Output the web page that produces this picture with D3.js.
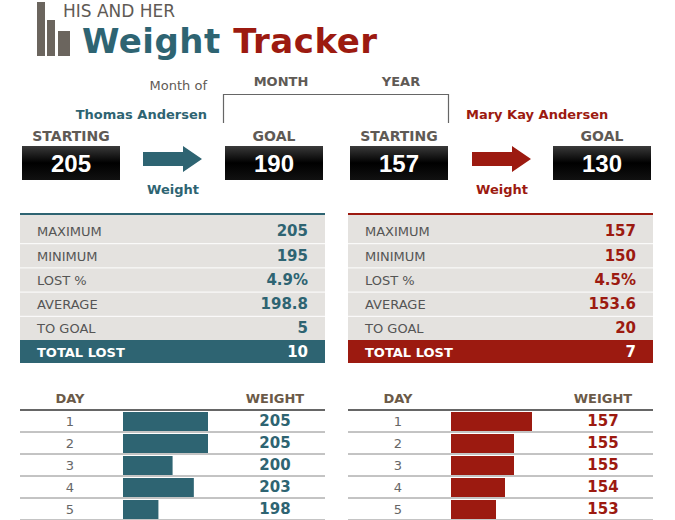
<!DOCTYPE html>
<html><head><meta charset="utf-8">
<script src="https://cdn.jsdelivr.net/npm/d3@7"></script>
<style>body{margin:0;background:#fff;font-family:Verdana,"DejaVu Sans",sans-serif}</style>
</head><body><svg id="c" width="675" height="520"></svg>
<script>
// data
const people = ['Thomas Andersen', 'Mary Kay Andersen'];
const starting = [205, 157];
const goal = [190, 130];
const statLabels = ['MAXIMUM', 'MINIMUM', 'LOST %', 'AVERAGE', 'TO GOAL'];
const hisStats = ['205', '195', '4.9%', '198.8', '5'];
const herStats = ['157', '150', '4.5%', '153.6', '20'];
const totalLost = [10, 7];
const days = [1, 2, 3, 4, 5, 6];
const hisWeights = [205, 205, 200, 203, 198, 198];
const herWeights = [157, 155, 155, 154, 153, null];

const teal = '#2e6472', red = '#9c1a10', gray = '#5f5a55';
const svg = d3.select('#c');

// logo
const logo = [[37, 2], [47, 20], [58, 31]];
const lw = [8, 8, 12];
logo.forEach(([x, y], i) => svg.append('rect').attr('x', x).attr('y', y).attr('width', lw[i]).attr('height', 56 - y).attr('fill', '#6b655e'));
svg.append('text').attr('x', 63).attr('y', 17).attr('fill', gray).style('font-size', '17px').text('HIS AND HER');
const title = svg.append('text').attr('x', 82).attr('y', 53).style('font-size', '34px').style('font-weight', 'bold').style('letter-spacing', '0.5px');
title.append('tspan').attr('fill', teal).text('Weight ');
title.append('tspan').attr('fill', red).text('Tracker');

// month header
const txt = (x, y, t, o) => svg.append('text').attr('x', x).attr('y', y).attr('text-anchor', o.anchor || 'middle')
  .attr('fill', o.fill || gray).style('font-size', (o.size || 13) + 'px').style('font-weight', o.bold ? 'bold' : 'normal').text(t);
txt(207, 90, 'Month of', { anchor: 'end' });
txt(281, 86, 'MONTH', { bold: true });
txt(401, 86, 'YEAR', { bold: true });
svg.append('path').attr('d', 'M223.5,123V94.5H448.5V123').attr('fill', 'none').attr('stroke', '#666').attr('stroke-width', 1.2);
txt(207, 119, people[0], { anchor: 'end', fill: teal, bold: true });
txt(466, 119, people[1], { anchor: 'start', fill: red, bold: true });

// boxes
const grad = svg.append('defs').append('linearGradient').attr('id', 'bx').attr('x1', 0).attr('y1', 0).attr('x2', 0).attr('y2', 1);
grad.append('stop').attr('offset', 0).attr('stop-color', '#3a3a3a');
grad.append('stop').attr('offset', 0.5).attr('stop-color', '#000');
grad.append('stop').attr('offset', 1).attr('stop-color', '#111');
const boxes = [[22, 'STARTING', starting[0]], [225, 'GOAL', goal[0]], [350, 'STARTING', starting[1]], [553, 'GOAL', goal[1]]];
boxes.forEach(([x, l, v]) => {
  txt(x + 49, 141, l, { bold: true, size: 14 });
  svg.append('rect').attr('x', x).attr('y', 146).attr('width', 98).attr('height', 34).attr('fill', 'url(#bx)');
  svg.append('text').attr('x', x + 49).attr('y', 172).attr('text-anchor', 'middle').attr('fill', '#fff')
    .style('font-size', '24px').style('font-weight', 'bold').style('font-family', 'Arial, Liberation Sans').text(v);
});
[[143, teal], [472, red]].forEach(([x, c]) => {
  svg.append('path').attr('d', `M${x},152H${x + 40}V146L${x + 59},159L${x + 40},172V166H${x}Z`).attr('fill', c);
  txt(x + 30, 194, 'Weight', { fill: c, bold: true });
});

// stats tables
function stats(x0, vals, total, c) {
  const w = 305;
  const y = d3.scaleBand().domain(d3.range(6)).range([220, 364]).paddingInner(0.05);
  svg.append('rect').attr('x', x0).attr('y', 213).attr('width', w).attr('height', 127).attr('fill', '#e4e2df');
  svg.append('rect').attr('x', x0).attr('y', 213).attr('width', w).attr('height', 2).attr('fill', c);
  statLabels.forEach((l, i) => {
    const yy = y(i) + y.bandwidth() / 2 + 5;
    if (i > 0) svg.append('line').attr('x1', x0).attr('x2', x0 + w).attr('y1', y(i) - 0.5).attr('y2', y(i) - 0.5).attr('stroke', '#fff');
    txt(x0 + 17, yy, l, { anchor: 'start', fill: '#555' });
    txt(x0 + 288, yy, vals[i], { anchor: 'end', fill: c, bold: true, size: 15 });
  });
  svg.append('rect').attr('x', x0).attr('y', 340).attr('width', w).attr('height', 23).attr('fill', c);
  txt(x0 + 17, 357, 'TOTAL LOST', { anchor: 'start', fill: '#fff', bold: true });
  txt(x0 + 288, 357, total, { anchor: 'end', fill: '#fff', bold: true, size: 15 });
}
stats(20, hisStats, totalLost[0], teal);
stats(348, herStats, totalLost[1], red);

// daily tables (row 6 runs off the bottom edge: only its bar top shows)
function daily(x0, weights, domain, range, c) {
  const y = d3.scaleBand().domain(days).range([410, 542]);
  const x = d3.scaleLinear().domain(domain).range([0, range]);
  txt(x0 + 50, 403, 'DAY', { bold: true, fill: '#6b5a48' });
  txt(x0 + 255, 403, 'WEIGHT', { bold: true, fill: '#6b5a48' });
  svg.append('rect').attr('x', x0).attr('y', 409).attr('width', 305).attr('height', 2).attr('fill', '#666');
  days.forEach((d, i) => {
    if (weights[i] == null) return;
    svg.append('rect').attr('x', x0 + 103).attr('y', y(d) + 2).attr('width', x(weights[i])).attr('height', y.bandwidth() - 3).attr('fill', c);
    if (y(d) + 16 > 520) return;
    svg.append('line').attr('x1', x0).attr('x2', x0 + 305).attr('y1', y(d) + y.bandwidth()).attr('y2', y(d) + y.bandwidth()).attr('stroke', '#888').attr('stroke-width', 1);
    txt(x0 + 50, y(d) + 16, d, { fill: '#666' });
    txt(x0 + 255, y(d) + 16, weights[i], { bold: true, fill: c, size: 15 });
  });
}
daily(20, hisWeights, [193, 205], 85, teal);
daily(348, herWeights, [148, 157], 81, red);
</script></body></html>
